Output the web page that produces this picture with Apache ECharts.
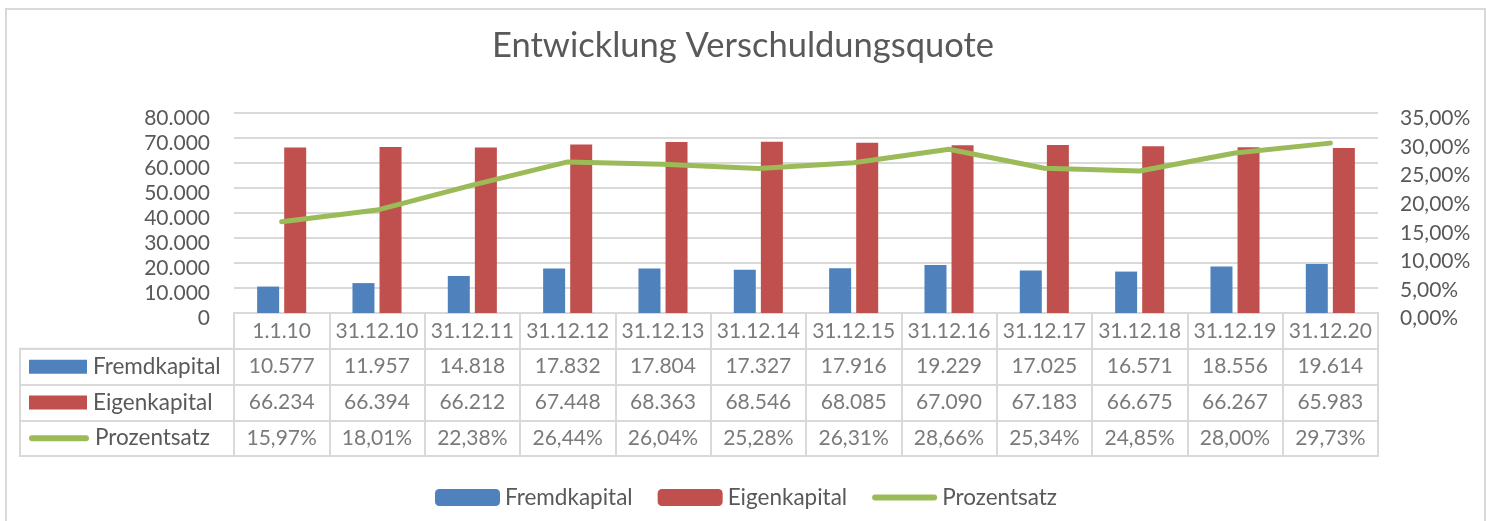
<!DOCTYPE html>
<html>
<head>
<meta charset="utf-8">
<script src="https://cdn.jsdelivr.net/npm/echarts@6/dist/echarts.min.js"></script>
<style>
  html, body { margin: 0; padding: 0; background: #fff; }
  #chart { width: 1486px; height: 521px; }
</style>
</head>
<body>
<div id="chart"></div>
<script>
// data
const dates = ['1.1.10', '31.12.10', '31.12.11', '31.12.12', '31.12.13', '31.12.14',
  '31.12.15', '31.12.16', '31.12.17', '31.12.18', '31.12.19', '31.12.20'];
const fremdkapital = [10577, 11957, 14818, 17832, 17804, 17327, 17916, 19229, 17025, 16571, 18556, 19614];
const eigenkapital = [66234, 66394, 66212, 67448, 68363, 68546, 68085, 67090, 67183, 66675, 66267, 65983];
const prozentsatz = [15.97, 18.01, 22.38, 26.44, 26.04, 25.28, 26.31, 28.66, 25.34, 24.85, 28.00, 29.73];
const seriesNames = ['Fremdkapital', 'Eigenkapital', 'Prozentsatz'];

const FONT = 'Lato';
const GREY = '#595959';
const LINE = '#d9d9d9';
const colors = ['#4F81BD', '#C0504D', '#9BBB59'];

function thousands(v) {
  return String(v).replace(/\B(?=(\d{3})+(?!\d))/g, '.');
}
function pct(v) {
  return v.toFixed(2).replace('.', ',') + '%';
}

// cells of the data table: [column, row, text]
const tableCells = [];
dates.forEach((d, i) => {
  tableCells.push([i, 0, d]);
  tableCells.push([i, 1, thousands(fremdkapital[i])]);
  tableCells.push([i, 2, thousands(eigenkapital[i])]);
  tableCells.push([i, 3, pct(prozentsatz[i])]);
});

// thick rounded line used as legend key for the percentage line
const lineIcon = 'path://M3,0 H62 A3,3 0 0 1 62,6 H3 A3,3 0 0 1 3,0 Z';

const chart = echarts.init(document.getElementById('chart'));

const option = {
  animation: false,
  textStyle: { fontFamily: FONT },
  title: {
    text: 'Entwicklung Verschuldungsquote',
    left: 'center',
    top: 23,
    textStyle: { fontFamily: FONT, fontSize: 34.5, fontWeight: 'normal', color: GREY }
  },
  legend: {
    data: [
      { name: seriesNames[0] },
      { name: seriesNames[1] },
      { name: seriesNames[2], icon: lineIcon, itemStyle: { color: colors[2] } }
    ],
    left: 435,
    top: 486,
    padding: 0,
    itemWidth: 65,
    itemHeight: 17,
    itemGap: 25,
    textStyle: { fontFamily: FONT, fontSize: 22.5, color: GREY }
  },
  graphic: [{
    type: 'rect',
    silent: true,
    shape: { x: 6, y: 9, width: 1479, height: 530 },
    style: { fill: 'none', stroke: LINE, lineWidth: 2 }
  }],
  grid: [
    { left: 234, right: 108, top: 113, height: 200 },
    { left: 234, right: 108, top: 313, height: 143, show: true, borderColor: LINE, borderWidth: 2 },
    { left: 20, width: 214, top: 348.75, height: 107.25, show: true, borderColor: LINE, borderWidth: 2 }
  ],
  xAxis: [
    { gridIndex: 0, type: 'category', data: dates, show: false },
    {
      gridIndex: 1, type: 'category', data: dates,
      axisLine: { show: false }, axisTick: { show: false }, axisLabel: { show: false },
      splitLine: { show: true, interval: 0, lineStyle: { color: LINE, width: 2 } }
    },
    { gridIndex: 2, type: 'value', min: 0, max: 1, show: false }
  ],
  yAxis: [
    {
      gridIndex: 0, type: 'value', min: 0, max: 80000, interval: 10000,
      axisLine: { show: false }, axisTick: { show: false },
      axisLabel: {
        formatter: thousands, fontFamily: FONT, fontSize: 21, color: GREY,
        margin: 24, verticalAlign: 'top', lineHeight: 11
      },
      splitLine: { lineStyle: { color: LINE, width: 2 } }
    },
    {
      gridIndex: 0, type: 'value', position: 'right', min: 0, max: 35, interval: 5,
      axisLine: { show: false }, axisTick: { show: false }, splitLine: { show: false },
      axisLabel: {
        formatter: pct, fontFamily: FONT, fontSize: 21, color: GREY,
        margin: 22, verticalAlign: 'top', lineHeight: 11
      }
    },
    {
      gridIndex: 1, type: 'category', inverse: true, data: ['', ...seriesNames],
      axisLine: { show: false }, axisTick: { show: false }, axisLabel: { show: false },
      splitLine: { show: true, interval: 0, lineStyle: { color: LINE, width: 2 } }
    },
    {
      gridIndex: 2, type: 'category', inverse: true, data: seriesNames,
      axisLine: { show: false }, axisTick: { show: false },
      splitLine: { show: true, interval: 0, lineStyle: { color: LINE, width: 2 } },
      axisLabel: {
        inside: true,
        margin: 9,
        formatter: (v, i) => '{k' + i + '|}{gap|}{txt|' + v + '}',
        rich: {
          k0: { width: 58, height: 14, backgroundColor: colors[0] },
          k1: { width: 58, height: 14, backgroundColor: colors[1] },
          k2: { width: 60, height: 6, backgroundColor: colors[2], borderRadius: 3 },
          gap: { width: 6 },
          txt: { fontFamily: FONT, fontSize: 22.5, color: GREY }
        }
      }
    }
  ],
  series: [
    {
      name: seriesNames[0], type: 'bar', xAxisIndex: 0, yAxisIndex: 0,
      data: fremdkapital, barWidth: 22, barGap: '23%',
      itemStyle: { color: colors[0] }
    },
    {
      name: seriesNames[1], type: 'bar', xAxisIndex: 0, yAxisIndex: 0,
      data: eigenkapital, barWidth: 22, barGap: '23%',
      itemStyle: { color: colors[1] }
    },
    {
      name: seriesNames[2], type: 'line', xAxisIndex: 0, yAxisIndex: 1,
      data: prozentsatz, symbol: 'none', z: 5,
      itemStyle: { color: colors[2] },
      lineStyle: { color: colors[2], width: 5, cap: 'round', join: 'round' }
    },
    {
      name: 'table', type: 'scatter', xAxisIndex: 1, yAxisIndex: 2,
      data: tableCells, symbolSize: 0, silent: true,
      label: {
        show: true, position: 'inside',
        formatter: p => p.data[2],
        fontFamily: FONT, fontSize: 21, color: GREY
      }
    }
  ]
};

chart.setOption(option);
</script>
</body>
</html>
